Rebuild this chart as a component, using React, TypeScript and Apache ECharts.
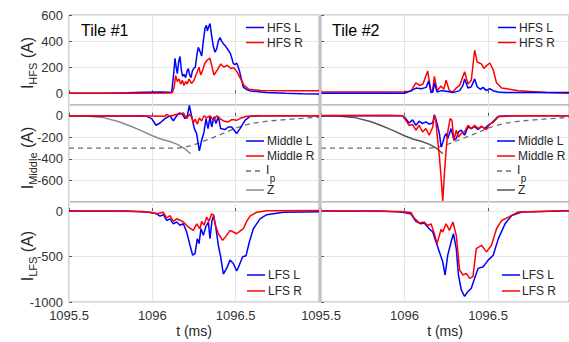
import React, { useEffect, useRef } from "react";
import * as echarts from "echarts";

// ---------------- data (time in ms, current in A) ----------------
const X_TICKS = [1095.5, 1096, 1096.5];
const HFS_TICKS = [0, 200, 400, 600];
const MID_TICKS = [-600, -400, -200, 0];
const LFS_TICKS = [-1000, -500, 0];

const hfsL1 = [[1095.5,0],[1095.7,1],[1095.85,4],[1095.95,8],[1096.05,9],[1096.1,7],[1096.116,5],[1096.128,150],[1096.136,268],[1096.143,200],[1096.15,150],[1096.158,240],[1096.166,282],[1096.174,180],[1096.182,130],[1096.19,145],[1096.2,120],[1096.208,170],[1096.216,188],[1096.224,140],[1096.232,120],[1096.24,170],[1096.248,190],[1096.258,200],[1096.268,300],[1096.276,352],[1096.286,320],[1096.296,285],[1096.306,400],[1096.316,498],[1096.324,520],[1096.33,478],[1096.338,510],[1096.346,534],[1096.356,440],[1096.366,360],[1096.376,316],[1096.386,340],[1096.396,400],[1096.406,426],[1096.416,400],[1096.426,380],[1096.44,360],[1096.456,330],[1096.47,300],[1096.486,227],[1096.496,220],[1096.506,232],[1096.514,205],[1096.522,175],[1096.534,110],[1096.546,47],[1096.566,28],[1096.586,18],[1096.686,5],[1096.8,0],[1096.9,-3],[1097,-5]];
const hfsR1 = [[1095.5,0],[1095.9,1],[1096.1,2],[1096.12,5],[1096.13,40],[1096.14,135],[1096.15,90],[1096.16,110],[1096.17,70],[1096.18,100],[1096.19,60],[1096.2,90],[1096.21,70],[1096.22,110],[1096.235,75],[1096.25,100],[1096.265,150],[1096.28,200],[1096.29,140],[1096.3,170],[1096.315,230],[1096.33,255],[1096.345,270],[1096.355,220],[1096.37,140],[1096.39,180],[1096.41,225],[1096.43,200],[1096.45,215],[1096.47,190],[1096.49,195],[1096.51,160],[1096.53,110],[1096.55,60],[1096.58,30],[1096.65,22],[1096.8,20],[1097,20]];
const hfsL2 = [[1095.5,0],[1096.0,0],[1096.04,20],[1096.07,40],[1096.1,35],[1096.13,45],[1096.145,95],[1096.159,5],[1096.17,10],[1096.18,80],[1096.195,10],[1096.22,20],[1096.25,15],[1096.29,5],[1096.33,20],[1096.35,60],[1096.36,110],[1096.38,40],[1096.4,50],[1096.42,110],[1096.435,50],[1096.455,30],[1096.47,45],[1096.49,20],[1096.51,35],[1096.53,20],[1096.56,10],[1096.6,5],[1096.985,5]];
const hfsR2 = [[1095.5,10],[1095.9,10],[1096.0,12],[1096.038,15],[1096.068,80],[1096.09,60],[1096.11,70],[1096.139,170],[1096.159,10],[1096.168,20],[1096.179,130],[1096.195,20],[1096.219,55],[1096.235,30],[1096.249,100],[1096.269,20],[1096.29,10],[1096.31,40],[1096.33,60],[1096.36,165],[1096.38,70],[1096.4,100],[1096.42,330],[1096.435,240],[1096.46,225],[1096.475,190],[1096.49,210],[1096.511,232],[1096.531,180],[1096.551,80],[1096.582,40],[1096.682,20],[1096.85,5],[1096.985,0]];

const midL1 = [[1095.5,0],[1095.7,-2],[1095.9,-3],[1095.926,0],[1095.966,-5],[1095.996,-26],[1096.022,-88],[1096.046,-67],[1096.076,-26],[1096.106,0],[1096.126,-48],[1096.146,0],[1096.162,26],[1096.182,14],[1096.196,-26],[1096.21,0],[1096.222,97],[1096.236,-5],[1096.252,-119],[1096.266,-165],[1096.282,-326],[1096.296,-227],[1096.31,-150],[1096.322,-26],[1096.334,-119],[1096.346,-11],[1096.356,-104],[1096.37,-11],[1096.382,-72],[1096.396,-5],[1096.41,-119],[1096.436,-128],[1096.456,-104],[1096.476,-104],[1096.506,-165],[1096.526,-119],[1096.556,-42],[1096.586,-5],[1096.646,0],[1097,0]];
const midR1 = [[1095.5,0],[1096.0,-3],[1096.076,-5],[1096.086,14],[1096.106,-5],[1096.146,14],[1096.162,14],[1096.186,26],[1096.206,-26],[1096.222,14],[1096.236,-11],[1096.246,-67],[1096.256,-30],[1096.27,-77],[1096.282,-20],[1096.296,-48],[1096.31,0],[1096.326,-20],[1096.346,0],[1096.366,-42],[1096.386,0],[1096.406,-26],[1096.426,-48],[1096.456,-57],[1096.476,-35],[1096.506,-42],[1096.526,-26],[1096.566,-5],[1096.65,0],[1097,0]];
const midL2 = [[1095.5,0],[1095.9,3],[1095.988,0],[1096.008,-26],[1096.027,-67],[1096.048,-38],[1096.068,-88],[1096.088,-50],[1096.108,-72],[1096.128,-57],[1096.148,-77],[1096.169,-67],[1096.179,10],[1096.195,-72],[1096.209,-165],[1096.219,-289],[1096.229,-250],[1096.239,-196],[1096.249,-165],[1096.259,-212],[1096.279,-119],[1096.296,-227],[1096.31,-212],[1096.323,-150],[1096.34,-134],[1096.36,-180],[1096.38,-104],[1096.4,-119],[1096.42,-100],[1096.441,-128],[1096.461,-98],[1096.481,-119],[1096.501,-88],[1096.521,-67],[1096.562,-5],[1096.642,0],[1096.985,0]];
const midR2 = [[1095.5,3],[1095.9,3],[1095.988,0],[1096.008,-42],[1096.027,-88],[1096.048,-80],[1096.068,-134],[1096.088,-88],[1096.108,-150],[1096.128,-119],[1096.148,-180],[1096.169,-104],[1096.179,0],[1096.185,-11],[1096.195,-165],[1096.209,-382],[1096.219,-568],[1096.229,-790],[1096.239,-537],[1096.249,-320],[1096.259,-150],[1096.273,-26],[1096.284,-42],[1096.296,-227],[1096.31,-134],[1096.323,-196],[1096.34,-165],[1096.36,-150],[1096.38,-88],[1096.4,-119],[1096.42,-88],[1096.441,-119],[1096.461,-98],[1096.491,-128],[1096.511,-77],[1096.531,-60],[1096.562,-10],[1096.642,0],[1096.985,0]];
const ip = [[1095.5,-300],[1096.15,-300],[1096.2,-290],[1096.25,-270],[1096.3,-240],[1096.35,-210],[1096.4,-180],[1096.45,-148],[1096.5,-115],[1096.55,-90],[1096.6,-70],[1096.7,-48],[1096.8,-35],[1096.9,-24],[1097,-12]];
const zPos = [[1095.5,0],[1095.6,-3],[1095.7,-15],[1095.8,-55],[1095.86,-90],[1095.93,-135],[1096.0,-185],[1096.05,-215],[1096.1,-237],[1096.15,-265],[1096.19,-300],[1096.23,-352]];

const lfsL1 = [[1095.5,0],[1095.846,0],[1095.986,-13],[1096.026,-30],[1096.046,-55],[1096.066,-40],[1096.086,-103],[1096.106,-85],[1096.126,-140],[1096.146,-120],[1096.166,-155],[1096.186,-140],[1096.206,-231],[1096.226,-376],[1096.242,-485],[1096.256,-467],[1096.27,-303],[1096.28,-358],[1096.292,-194],[1096.306,-267],[1096.32,-176],[1096.336,-120],[1096.346,-303],[1096.358,-103],[1096.368,-48],[1096.382,-194],[1096.396,-376],[1096.41,-503],[1096.426,-692],[1096.446,-630],[1096.466,-539],[1096.486,-576],[1096.506,-659],[1096.522,-594],[1096.542,-503],[1096.562,-492],[1096.582,-340],[1096.606,-194],[1096.646,-85],[1096.686,-40],[1096.786,-13],[1097,-7]];
const lfsR1 = [[1095.5,0],[1095.95,-5],[1096.026,-30],[1096.066,-13],[1096.086,-76],[1096.106,-50],[1096.126,-113],[1096.146,-85],[1096.166,-100],[1096.186,-120],[1096.216,-176],[1096.246,-212],[1096.266,-140],[1096.286,-194],[1096.296,-113],[1096.31,-155],[1096.326,-67],[1096.34,-113],[1096.356,-30],[1096.366,-40],[1096.376,-140],[1096.396,-249],[1096.422,-322],[1096.446,-267],[1096.466,-212],[1096.486,-230],[1096.506,-249],[1096.526,-221],[1096.546,-194],[1096.566,-113],[1096.586,-55],[1096.626,-13],[1096.686,4],[1097,7]];
const lfsL2 = [[1095.5,0],[1095.856,0],[1095.977,-10],[1096.038,-30],[1096.068,-113],[1096.098,-140],[1096.118,-130],[1096.148,-194],[1096.169,-230],[1096.189,-340],[1096.209,-449],[1096.229,-558],[1096.243,-703],[1096.259,-485],[1096.279,-340],[1096.293,-249],[1096.31,-412],[1096.323,-703],[1096.34,-866],[1096.36,-939],[1096.38,-884],[1096.4,-848],[1096.42,-739],[1096.441,-630],[1096.471,-612],[1096.501,-539],[1096.531,-485],[1096.562,-303],[1096.602,-140],[1096.642,-49],[1096.702,-10],[1096.985,4]];
const lfsR2 = [[1095.5,0],[1095.977,-5],[1096.038,-15],[1096.058,-76],[1096.088,-130],[1096.118,-120],[1096.139,-158],[1096.159,-140],[1096.179,-249],[1096.195,-358],[1096.209,-267],[1096.219,-200],[1096.229,-230],[1096.249,-140],[1096.269,-212],[1096.29,-120],[1096.31,-267],[1096.33,-648],[1096.35,-703],[1096.37,-685],[1096.39,-739],[1096.41,-721],[1096.43,-412],[1096.461,-376],[1096.491,-449],[1096.521,-376],[1096.551,-194],[1096.582,-103],[1096.622,-67],[1096.682,-10],[1096.985,4]];

// ---------------- styling / layout ----------------
const FONT = "Liberation Sans";
const BLUE = "#0000ff";
const RED = "#ff0000";
const TXT = "#262626";

function measure(text: string, size: number) {
  const ctx = document.createElement("canvas").getContext("2d");
  if (!ctx) return text.length * size * 0.55;
  ctx.font = `${size}px "${FONT}"`;
  return ctx.measureText(text).width;
}

function yTitle(cx: number, cy: number, sub: string) {
  const big = 16, small = 11;
  const wI = measure("I", big), wS = measure(sub, small), wA = measure(" (A)", big);
  const W = wI + wS + wA;
  const x0 = -W / 2;
  const st = (text: string, size: number) => ({ text, fontSize: size, fontFamily: FONT, fill: TXT, align: "left", verticalAlign: "middle" });
  return {
    type: "group", x: cx, y: cy, rotation: Math.PI / 2,
    children: [
      { type: "text", x: x0, y: 0, style: st("I", big) },
      { type: "text", x: x0 + wI, y: 6, style: st(sub, small) },
      { type: "text", x: x0 + wI + wS, y: 0, style: st(" (A)", big) },
    ],
  };
}

function legendItem(x1: number, x2: number, tx: number, y: number, color: string, label: string, dash?: number[], sub?: string) {
  const els: any[] = [
    { type: "line", shape: { x1, y1: y, x2, y2: y }, style: { stroke: color, lineWidth: 1.5, lineDash: dash || null }, z: 100 },
    { type: "text", x: tx, y: sub ? y - 1 : y, style: { text: label, fontSize: 12, fontFamily: FONT, fill: TXT, align: "left", verticalAlign: "middle" }, z: 100 },
  ];
  if (sub) {
    els.push({ type: "text", x: tx + measure(label, 12) + 0.5, y: y + 7, style: { text: sub, fontSize: 10, fontFamily: FONT, fill: TXT, align: "left", verticalAlign: "middle" }, z: 100 });
  }
  return els;
}

export default function App() {
  const ref = useRef<HTMLDivElement>(null);
  useEffect(() => {
    if (!ref.current) return;
    const chart = echarts.init(ref.current, undefined, { renderer: "svg" });

    const cols = [
      { left: 69, width: 250, max: 1097 },
      { left: 321, width: 248, max: 1096.985 },
    ];
    const rows = [
      { top: 15, height: 90, min: -90, max: 600, ticks: HFS_TICKS },
      { top: 105, height: 97, min: -800, max: 100, ticks: MID_TICKS },
      { top: 202, height: 100, min: -1000, max: 100, ticks: LFS_TICKS },
    ];
    const grids: any[] = [], xAxes: any[] = [], yAxes: any[] = [];
    rows.forEach((r, ri) => {
      cols.forEach((c, ci) => {
        const gi = ri * 2 + ci;
        grids.push({ left: c.left, top: r.top, width: c.width, height: r.height, show: true, borderColor: "#a8a8a8", borderWidth: 1, backgroundColor: "#fff", outerBoundsMode: "none" });
        xAxes.push({
          type: "value", gridIndex: gi, min: 1095.5, max: c.max, interval: 0.5,
          axisLine: { show: false },
          axisTick: { show: true, inside: true, length: 3, lineStyle: { color: "#555" }, customValues: X_TICKS },
          axisLabel: { show: ri === 2, customValues: X_TICKS, fontSize: 13, color: "#333", margin: 7, fontFamily: FONT, formatter: (v: number) => String(v) },
          splitLine: { show: true, lineStyle: { color: "#e6e6e6", width: 1 } },
          name: ri === 2 ? "t (ms)" : "", nameLocation: "middle", nameGap: 22,
          nameTextStyle: { fontSize: 14, color: TXT, fontFamily: FONT },
        });
        yAxes.push({
          type: "value", gridIndex: gi, min: r.min, max: r.max,
          axisLine: { show: false },
          axisTick: { show: true, inside: true, length: 3, lineStyle: { color: "#555" }, customValues: r.ticks },
          axisLabel: { show: ci === 0, customValues: r.ticks, fontSize: 13, color: "#333", margin: 6, fontFamily: FONT, formatter: (v: number) => String(v) },
          splitLine: { show: true, lineStyle: { color: "#e6e6e6", width: 1 } },
        });
      });
    });

    const mk = (name: string, data: number[][], gi: number, color: string, extra: any = {}) => ({
      type: "line", name, data, xAxisIndex: gi, yAxisIndex: gi, showSymbol: false, symbol: "none",
      lineStyle: { color, width: 1.5, ...(extra.lineStyle || {}) }, itemStyle: { color }, z: extra.z || 3, clip: true,
    });

    const series = [
      mk("HFS L", hfsL1, 0, BLUE), mk("HFS R", hfsR1, 0, RED),
      mk("HFS R", hfsR2, 1, RED), mk("HFS L", hfsL2, 1, BLUE, { z: 4 }),
      mk("Ip", ip, 2, "#6e6e6e", { lineStyle: { type: [5, 4], width: 1.3 }, z: 2 }), mk("Z", zPos, 2, "#8c8c8c", { z: 2 }),
      mk("Middle L", midL1, 2, BLUE), mk("Middle R", midR1, 2, RED),
      mk("Ip", ip, 3, "#6e6e6e", { lineStyle: { type: [5, 4], width: 1.3 }, z: 2 }), mk("Z", zPos, 3, "#555555", { z: 2 }),
      mk("Middle L", midL2, 3, BLUE), mk("Middle R", midR2, 3, RED),
      mk("LFS L", lfsL1, 4, BLUE), mk("LFS R", lfsR1, 4, RED),
      mk("LFS L", lfsL2, 5, BLUE), mk("LFS R", lfsR2, 5, RED),
    ];

    const graphics: any[] = [
      { type: "rect", shape: { x: 319, y: 14.5, width: 2.5, height: 288 }, style: { fill: "#c4c4c4" }, z: 50 },
      { type: "text", x: 81, y: 30, style: { text: "Tile #1", fontSize: 16, fontFamily: FONT, fill: "#000", align: "left", verticalAlign: "middle" }, z: 100 },
      { type: "text", x: 332, y: 30, style: { text: "Tile #2", fontSize: 16, fontFamily: FONT, fill: "#000", align: "left", verticalAlign: "middle" }, z: 100 },
      yTitle(27, 63, "HFS"),
      yTitle(27, 158, "Middle"),
      yTitle(27, 256, "LFS"),
      ...legendItem(246, 264, 267, 27.5, BLUE, "HFS L"),
      ...legendItem(246, 264, 267, 42.5, RED, "HFS R"),
      ...legendItem(498, 516, 519, 27.5, BLUE, "HFS L"),
      ...legendItem(498, 516, 519, 42.5, RED, "HFS R"),
      ...legendItem(246, 264, 267, 141, BLUE, "Middle L"),
      ...legendItem(246, 264, 267, 156, RED, "Middle R"),
      ...legendItem(246, 264, 266, 171, "#6e6e6e", "I", [5, 4], "p"),
      ...legendItem(246, 264, 267, 190, "#8c8c8c", "Z"),
      ...legendItem(497, 515, 518, 141, BLUE, "Middle L"),
      ...legendItem(497, 515, 518, 156, RED, "Middle R"),
      ...legendItem(497, 515, 517, 171, "#6e6e6e", "I", [5, 4], "p"),
      ...legendItem(497, 515, 518, 190, "#555555", "Z"),
      ...legendItem(247, 265, 268, 275, BLUE, "LFS L"),
      ...legendItem(247, 265, 268, 291, RED, "LFS R"),
      ...legendItem(502, 520, 522, 275, BLUE, "LFS L"),
      ...legendItem(502, 520, 522, 291, RED, "LFS R"),
    ];

    chart.setOption({
      animation: false,
      backgroundColor: "#fff",
      textStyle: { fontFamily: FONT },
      grid: grids,
      xAxis: xAxes,
      yAxis: yAxes,
      series,
      graphic: { elements: graphics },
    });
    return () => chart.dispose();
  }, []);
  return <div ref={ref} style={{ position: "absolute", left: 0, top: 0, width: 569, height: 342 }} />;
}
